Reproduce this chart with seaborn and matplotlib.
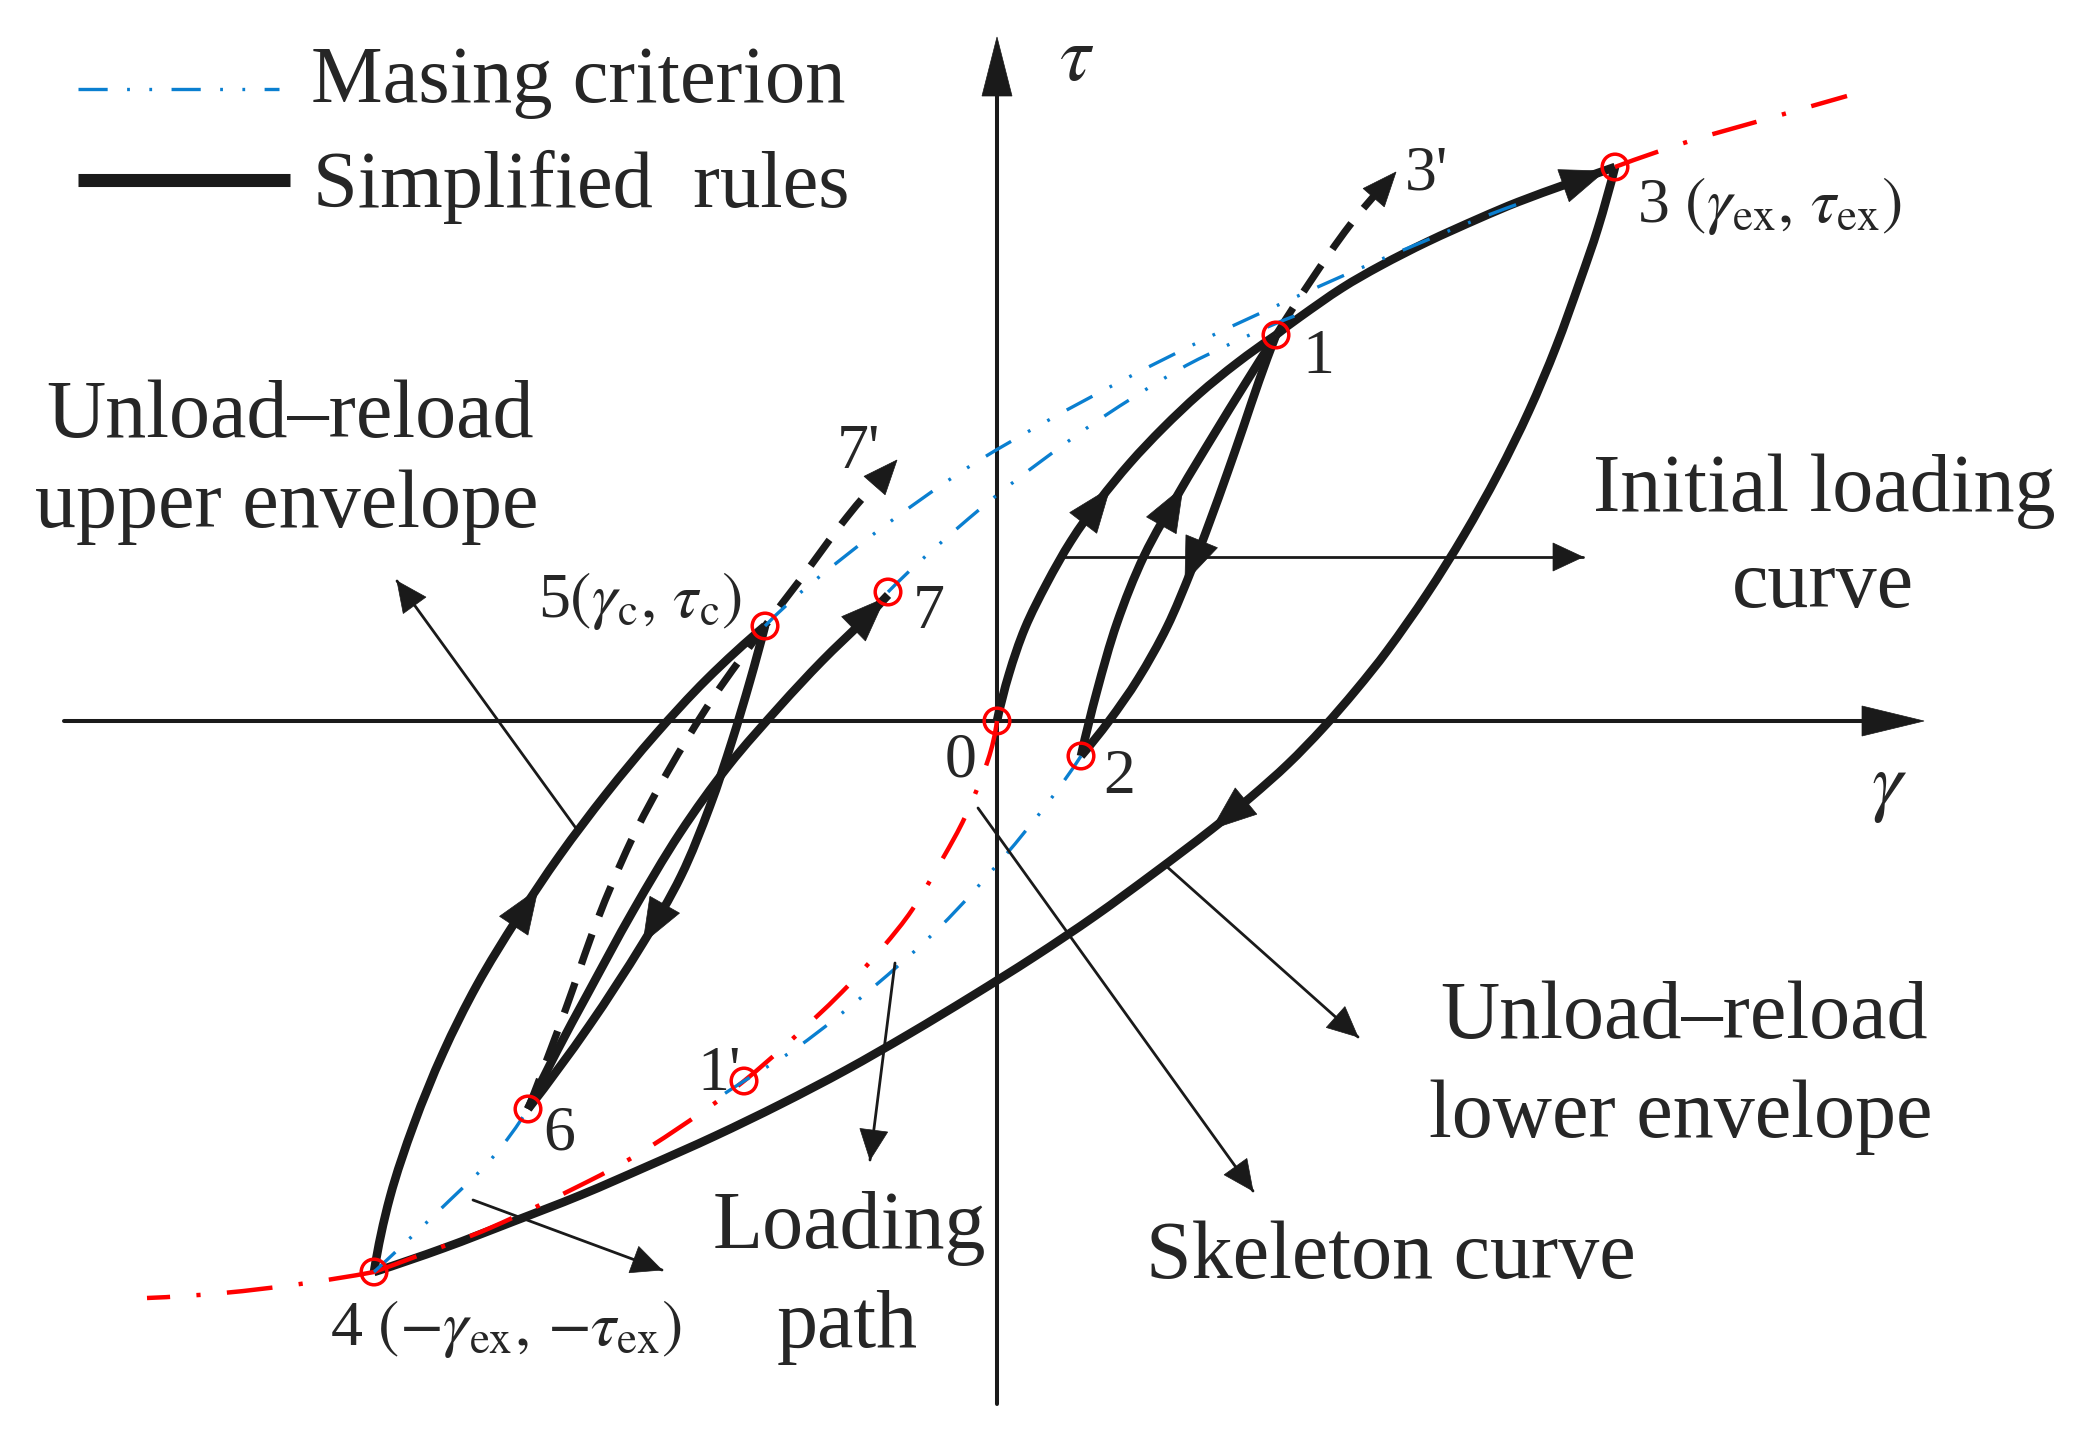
import numpy as np
import matplotlib
matplotlib.use("Agg")
import matplotlib.pyplot as plt
from matplotlib.path import Path
from matplotlib.patches import PathPatch, Polygon
import seaborn as sns

# gamma / tau in picture units, origin where the two axes cross
point_names = ["0", "1", "2", "3", "4", "5", "6", "7", "1'"]
point_gamma = [0, 279, 84, 618, -623, -232, -469, -109, -253]
point_tau = [0, 386, -35, 554, -551, 95, -388, 129, -360]

# skeleton curve (red), visible parts
skeleton_neg = [(0, 0), (-9, -39), (-32, -96), (-54, -137), (-85, -189), (-114, -226),
                (-155, -271), (-209, -322), (-253, -360), (-292, -389), (-357, -432),
                (-410, -461), (-507, -507), (-577, -534), (-623, -551)]
skeleton_tail = [(-623, -551), (-697, -563), (-774, -572), (-850, -577)]
skeleton_pos = [(618, 554), (693, 580), (773, 603), (850, 625)]

# Masing criterion (blue)
masing_unload = [(84, -35), (53, -79), (6, -137), (-57, -206), (-127, -269),
                 (-199, -326), (-253, -360), (-282, -379)]
masing_reload_low = [(-623, -551), (-547, -479), (-504, -436), (-469, -388)]
masing_reload_up = [(-232, 95), (-190, 134), (-114, 194), (-30, 253), (50, 300),
                    (130, 343), (210, 383), (279, 415), (350, 447), (423, 478),
                    (476, 500), (521, 517)]
masing_from7 = [(-109, 129), (-80, 157), (-37, 195), (0, 226), (43, 259), (103, 302),
                (183, 352), (233, 377), (273, 395), (300, 406)]

# simplified rules (black)
path_0_1 = [(0, 0), (12, 47), (28, 93), (50, 138), (74, 180), (102, 220), (133, 258),
            (166, 293), (202, 327), (240, 358), (279, 386)]
path_1_2 = [(279, 386), (262, 340), (246, 293), (230, 247), (213, 200), (194, 150),
            (170, 94), (141, 42), (112, 0), (84, -35)]
path_2_1 = [(84, -35), (100, 30), (120, 98), (147, 165), (183, 230), (216, 285),
            (248, 337), (279, 386)]
path_1_3 = [(279, 386), (303, 404), (345, 433), (383, 455), (430, 479), (483, 503),
            (521, 519), (570, 537), (618, 554)]
path_3_4 = [(618, 554), (601, 493), (583, 440), (559, 374), (532, 310), (501, 247),
            (467, 186), (430, 127), (390, 70), (359, 31), (326, -7), (291, -43),
            (254, -76), (215, -108), (157, -152), (98, -195), (37, -236), (-25, -275),
            (-88, -313), (-151, -349), (-216, -383), (-282, -415), (-349, -445),
            (-416, -474), (-485, -501), (-553, -527), (-623, -551)]
path_4_5 = [(-623, -551), (-607, -476), (-583, -403), (-554, -332), (-520, -264),
            (-480, -198), (-437, -134), (-391, -73), (-342, -14), (-290, 42), (-232, 95)]
path_5_6 = [(-232, 95), (-247, 40), (-265, -20), (-287, -85), (-316, -155),
            (-354, -222), (-408, -305), (-469, -388)]
path_6_7 = [(-469, -388), (-440, -330), (-410, -274), (-364, -190), (-317, -112),
            (-268, -44), (-217, 15), (-175, 60), (-134, 100), (-109, 126)]
dash_6_7p = [(-469, -388), (-432, -290), (-400, -200), (-366, -120), (-330, -52),
             (-284, 23), (-232, 95), (-197, 141), (-150, 204), (-112, 248)]
dash_1_3p = [(279, 386), (313, 439), (353, 496), (390, 539)]

# arrow heads on the black paths: (tip, point behind it)
solid_heads = [((113, 233), (80, 190)), ((188, 139), (213, 200)), ((186, 234), (147, 165)),
               ((608, 550), (560, 533)), ((215, -108), (265, -67)),
               ((-459, -168), (-500, -230)), ((-354, -222), (-316, -155)),
               ((-112, 123), (-160, 76))]
dashed_heads = [((-100, 261), (-150, 204)), ((399, 549), (353, 496))]

# thin pointer arrows: (start, tip)
pointers = [((-419, -110), (-600, 140)), ((65, 164), (586, 164)), ((168, -144), (361, -316)),
            ((-19, -87), (256, -470)), ((-102, -242), (-127, -439)),
            ((-524, -479), (-335, -549))]

RED = "#ff0000"
BLUE = "#0a7fd0"
RED_LS = (0, (33, 19, 3, 19))
BLUE_LS = (0, (21, 14, 2, 14, 2, 14))
BLACK_LS = (0, (23, 14))


def smooth(pts):
    # cubic pieces through the read points, tangents from chord lengths
    p = np.asarray(pts, float)
    n = len(p)
    d = np.hypot(*np.diff(p, axis=0).T)
    m = np.zeros_like(p)
    if n > 2:
        for i in range(1, n - 1):
            m[i] = (p[i + 1] - p[i - 1]) / (d[i - 1] + d[i])
        m[0] = 2 * (p[1] - p[0]) / d[0] - m[1]
        m[-1] = 2 * (p[-1] - p[-2]) / d[-1] - m[-2]
    else:
        m[0] = m[-1] = (p[1] - p[0]) / d[0]
    verts, codes = [p[0]], [Path.MOVETO]
    for i in range(n - 1):
        verts += [p[i] + m[i] * d[i] / 3, p[i + 1] - m[i + 1] * d[i] / 3, p[i + 1]]
        codes += [Path.CURVE4] * 3
    return Path(verts, codes)


def curve(ax, pts, color, lw, ls="-", z=3):
    ax.add_patch(PathPatch(smooth(pts), fill=False, ec=color, lw=lw, ls=ls,
                           capstyle="butt", joinstyle="round", zorder=z))


def head(ax, tip, prior, length, width, z=5):
    tip = np.asarray(tip, float)
    d = tip - np.asarray(prior, float)
    d /= np.hypot(*d)
    n = np.array([-d[1], d[0]])
    base = tip - d * length
    ax.add_patch(Polygon([tip, base + n * width / 2, base - n * width / 2],
                         closed=True, fc="k", ec="k", lw=0.5, zorder=z))


sns.set_theme(style="white")
plt.rcParams["font.family"] = ["Liberation Serif", "DejaVu Serif"]
plt.rcParams["mathtext.fontset"] = "stix"
plt.rcParams["lines.scale_dashes"] = False

fig = plt.figure(figsize=(20.91, 14.44), dpi=100)
ax = fig.add_axes([0, 0, 1, 1])
ax.set_xlim(-997, 1094)
ax.set_ylim(-723, 721)
ax.axis("off")

# axes
sns.lineplot(x=[-933, 870], y=[0, 0], color="k", lw=2.9, ax=ax, sort=False, estimator=None)
sns.lineplot(x=[0, 0], y=[-683, 630], color="k", lw=2.9, ax=ax, sort=False, estimator=None)
head(ax, (927, 0), (800, 0), 62, 30, z=2)
head(ax, (0, 684), (0, 600), 59, 30, z=2)
ax.text(62, 641, r"$\tau$", fontsize=56, ha="left", va="baseline")
ax.text(874, -86, r"$\gamma$", fontsize=56, ha="left", va="baseline")

# black rules
for pts in [path_0_1, path_1_2, path_2_1, path_1_3, path_3_4, path_4_5, path_5_6, path_6_7]:
    curve(ax, pts, "k", 6.2)
for pts in [dash_6_7p, dash_1_3p]:
    curve(ax, pts, "k", 5.2, BLACK_LS)
for tip, prior in solid_heads:
    head(ax, tip, prior, 44, 34)
for tip, prior in dashed_heads:
    head(ax, tip, prior, 34, 28)

# skeleton and Masing curves
for pts in [skeleton_neg, skeleton_tail, skeleton_pos]:
    curve(ax, pts, RED, 3.2, RED_LS, z=4)
for pts in [masing_unload, masing_reload_low, masing_reload_up, masing_from7]:
    curve(ax, pts, BLUE, 2.4, BLUE_LS, z=4)

# pointer arrows
for (x0, y0), (x1, y1) in pointers:
    sns.lineplot(x=[x0, x1], y=[y0, y1], color="k", lw=2.0, ax=ax, sort=False,
                 estimator=None, zorder=4)
    head(ax, (x1, y1), (x0, y0), 30, 28)

# turning points
sns.scatterplot(x=point_gamma, y=point_tau, s=340, marker="o", facecolors="none",
                edgecolor=RED, linewidth=2.5, ax=ax, zorder=6)

# legend
ax.plot([-919, -718], [632, 632], color=BLUE, lw=2.4, ls=BLUE_LS, solid_capstyle="butt")
ax.plot([-919, -707], [541, 541], color="k", lw=9.4, solid_capstyle="butt")
ax.text(-686, 619, "Masing criterion", fontsize=58, ha="left", va="baseline")
ax.text(-684, 514, "Simplified  rules", fontsize=58, ha="left", va="baseline")

# descriptive labels
big = 59
ax.text(-707, 284, "Unload\u2013reload", fontsize=big, ha="center", va="baseline")
ax.text(-710, 194, "upper envelope", fontsize=big, ha="center", va="baseline")
ax.text(827, 210, "Initial loading", fontsize=big, ha="center", va="baseline")
ax.text(826, 114, "curve", fontsize=big, ha="center", va="baseline")
ax.text(687, -317, "Unload\u2013reload", fontsize=big, ha="center", va="baseline")
ax.text(684, -416, "lower envelope", fontsize=big, ha="center", va="baseline")
ax.text(394, -557, "Skeleton curve", fontsize=big, ha="center", va="baseline")
ax.text(-148, -527, "Loading", fontsize=big, ha="center", va="baseline")
ax.text(-150, -626, "path", fontsize=big, ha="center", va="baseline")

# point labels
small = 46
ax.text(-52, -56, "0", fontsize=small, va="baseline")
ax.text(305, 348, "1", fontsize=small, va="baseline")
ax.text(106, -72, "2", fontsize=small, va="baseline")
ax.text(640, 499, r"3 $(\gamma_{\rm ex},\,\tau_{\rm ex})$", fontsize=small, va="baseline")
ax.text(-667, -624, r"4 $({-}\gamma_{\rm ex},\,{-}\tau_{\rm ex})$", fontsize=small,
        va="baseline")
ax.text(-459, 104, r"5$(\gamma_{\rm c},\,\tau_{\rm c})$", fontsize=small, va="baseline")
ax.text(-454, -429, "6", fontsize=small, va="baseline")
ax.text(-84, 93, "7", fontsize=small, va="baseline")
ax.text(-300, -369, "1'", fontsize=small, va="baseline")
ax.text(-160, 253, "7'", fontsize=small, va="baseline")
ax.text(408, 531, "3'", fontsize=small, va="baseline")

fig.savefig("out.png", dpi=100, facecolor="white")
